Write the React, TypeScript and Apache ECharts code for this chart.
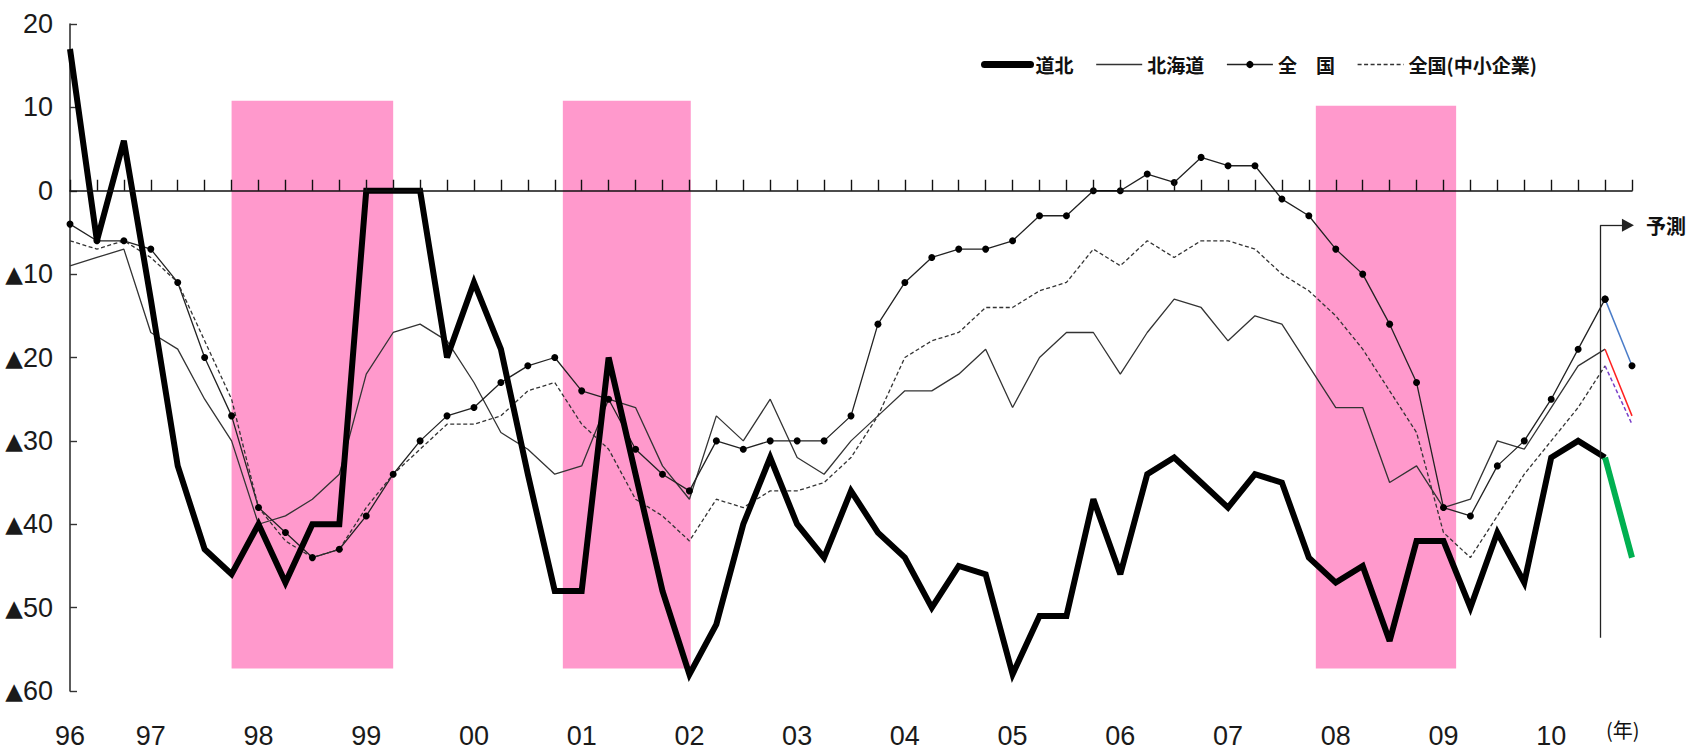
import React, { useEffect, useRef } from 'react';
import * as echarts from 'echarts';

// ---- data (quarterly, index 0 = first quarter shown, 58 = forecast) ----
const seriesNames = ['道北', '北海道', '全　国', '全国(中小企業)'];

const douhoku = [
  17, -6, 6, -13, -33, -43, -46, -40, -47, -40, -40, 0, 0, 0, -20, -11, -19, -34, -48, -48,
  -20, -34, -48, -58, -52, -40, -32, -40, -44, -36, -41, -44, -50, -45, -46, -58, -51, -51, -37, -46,
  -34, -32, -35, -38, -34, -35, -44, -47, -45, -54, -42, -42, -50, -41, -47, -32, -30, -32,
];
const hokkaido = [
  -9, -8, -7, -17, -19, -25, -30, -40, -39, -37, -34, -22, -17, -16, -18, -23, -29, -31, -34, -33,
  -25, -26, -33, -37, -27, -30, -25, -32, -34, -30, -27, -24, -24, -22, -19, -26, -20, -17, -17, -22,
  -17, -13, -14, -18, -15, -16, -21, -26, -26, -35, -33, -38, -37, -30, -31, -26, -21, -19,
];
const zenkoku = [
  -4, -6, -6, -7, -11, -20, -27, -38, -41, -44, -43, -39, -34, -30, -27, -26, -23, -21, -20, -24,
  -25, -31, -34, -36, -30, -31, -30, -30, -30, -27, -16, -11, -8, -7, -7, -6, -3, -3, 0, 0,
  2, 1, 4, 3, 3, -1, -3, -7, -10, -16, -23, -38, -39, -33, -30, -25, -19, -13,
];
const chusho = [
  -6, -7, -6, -8, -11, -18, -25, -38, -42, -44, -43, -38, -34, -31, -28, -28, -27, -24, -23, -28,
  -31, -37, -39, -42, -37, -38, -36, -36, -35, -32, -27, -20, -18, -17, -14, -14, -12, -11, -7, -9,
  -6, -8, -6, -6, -7, -10, -12, -15, -19, -24, -29, -41, -44, -39, -34, -30, -26, -21,
];
// forecast values (next quarter) in the order of seriesNames
const forecastValues = [-44, -27, -21, -28];

// year labels and the quarter index they sit on
const yearLabels = ['96', '97', '98', '99', '00', '01', '02', '03', '04', '05', '06', '07', '08', '09', '10'];
const yearLabelIndex = [0, 3, 7, 11, 15, 19, 23, 27, 31, 35, 39, 43, 47, 51, 55];

// recession periods: [start index, end index]
const recessionStart = [6.0, 18.3, 46.26];
const recessionEnd = [12.0, 23.05, 51.47];
const recessionTop = [10.8, 10.8, 10.2];
const recessionBottom = -57.3;

const NUM_FONT = "'Liberation Sans', Arial, sans-serif";
const CJK_FONT = "'Noto Sans CJK JP', 'Noto Sans CJK SC', sans-serif";

const toPairs = (arr: number[]) => arr.map((v, i) => [i, v]);
const lastIdx = douhoku.length - 1;
const fcPairs = (arr: number[], fc: number) => [
  [lastIdx, arr[lastIdx]],
  [lastIdx + 1, fc],
];

export default function App() {
  const ref = useRef<HTMLDivElement>(null);

  useEffect(() => {
    if (!ref.current) return;
    const chart = echarts.init(ref.current, undefined, { renderer: 'svg' });
    const labelMap: Record<number, string> = {};
    yearLabelIndex.forEach((idx, k) => {
      labelMap[idx] = yearLabels[k];
    });

    const option: any = {
      animation: false,
      backgroundColor: '#ffffff',
      grid: { left: 70, top: 24, width: 1562, height: 667, containLabel: false, outerBoundsMode: 'none' },
      legend: {
        left: 976,
        top: 50,
        itemWidth: 46,
        itemHeight: 9,
        itemGap: 22,
        selectedMode: false,
        textStyle: { fontFamily: CJK_FONT, fontSize: 19, fontWeight: 'bold', color: '#111' },
        lineStyle: { width: 1.4 },
        data: [
          { name: seriesNames[0], lineStyle: { width: 7, cap: 'round' }, itemStyle: { opacity: 0 } },
          { name: seriesNames[1], itemStyle: { opacity: 0 } },
          { name: seriesNames[2] },
          { name: seriesNames[3], itemStyle: { opacity: 0 } },
        ],
      },
      xAxis: [
        {
          type: 'value',
          min: 0,
          max: lastIdx + 1,
          interval: 1,
          position: 'bottom',
          axisLine: { show: false, onZero: false },
          axisTick: { show: false },
          splitLine: { show: false },
          axisLabel: {
            formatter: (v: number) => labelMap[v] ?? '',
            margin: 31,
            fontSize: 27,
            fontFamily: NUM_FONT,
            color: '#1a1a1a',
            showMinLabel: true,
            showMaxLabel: true,
          },
        },
        {
          type: 'value',
          min: 0,
          max: lastIdx + 1,
          interval: 1,
          position: 'bottom',
          z: 5,
          axisLine: { show: true, onZero: true, onZeroAxisIndex: 0, lineStyle: { color: '#111', width: 1.6 } },
          axisTick: { show: true, inside: true, length: 11, lineStyle: { color: '#111', width: 1.4 } },
          axisLabel: { show: false },
          splitLine: { show: false },
        },
      ],
      yAxis: {
        type: 'value',
        min: -60,
        max: 20,
        interval: 10,
        axisLine: { show: true, onZero: false, lineStyle: { color: '#333', width: 1.6 } },
        axisTick: { show: true, inside: true, length: 7, lineStyle: { color: '#333', width: 1.4 } },
        splitLine: { show: false },
        axisLabel: {
          formatter: (v: number) => (v < 0 ? '{t|▲}' + -v : String(v)),
          margin: 17,
          fontSize: 27,
          fontFamily: NUM_FONT,
          color: '#1a1a1a',
          rich: {
            t: { fontFamily: "'DejaVu Sans', sans-serif", fontSize: 23, color: '#1a1a1a' },
          },
        },
      },
      graphic: [
        {
          type: 'text',
          left: 1606,
          top: 719,
          style: { text: '(年)', font: `20px ${CJK_FONT}`, fill: '#111' },
        },
      ],
      series: [
        {
          name: seriesNames[0],
          type: 'line',
          data: toPairs(douhoku),
          symbol: 'none',
          lineStyle: { color: '#000', width: 6, join: 'miter', miterLimit: 3 },
          itemStyle: { color: '#000' },
          z: 4,
          markArea: {
            silent: true,
            itemStyle: { color: '#ff99cc', opacity: 1 },
            data: recessionStart.map((s, k) => [
              { xAxis: s, yAxis: recessionTop[k] },
              { xAxis: recessionEnd[k], yAxis: recessionBottom },
            ]),
          },
          markLine: {
            silent: true,
            symbol: ['none', 'none'],
            lineStyle: { color: '#222', width: 1.3, type: 'solid' },
            label: { show: false },
            data: [
              [{ coord: [56.82, -4.13] }, { coord: [56.82, -53.6] }],
              [
                { coord: [56.82, -4.13] },
                {
                  coord: [57.85, -4.13],
                  symbol: 'triangle',
                  symbolSize: [13, 12],
                  itemStyle: { color: '#111' },
                  label: {
                    show: true,
                    position: 'end',
                    formatter: '予測',
                    distance: 18,
                    fontSize: 20,
                    fontFamily: CJK_FONT,
                    fontWeight: 'bold',
                    color: '#111',
                  },
                },
              ],
            ],
          },
        },
        {
          name: seriesNames[1],
          type: 'line',
          data: toPairs(hokkaido),
          symbol: 'none',
          lineStyle: { color: '#333', width: 1.3 },
          itemStyle: { color: '#333' },
        },
        {
          name: seriesNames[2],
          type: 'line',
          data: toPairs(zenkoku),
          symbol: 'circle',
          symbolSize: 7,
          lineStyle: { color: '#222', width: 1.3 },
          itemStyle: { color: '#000' },
        },
        {
          name: seriesNames[3],
          type: 'line',
          data: toPairs(chusho),
          symbol: 'none',
          lineStyle: { color: '#333', width: 1.3, type: [4, 2.5] },
          itemStyle: { color: '#333' },
        },
        {
          name: '道北予測',
          type: 'line',
          data: fcPairs(douhoku, forecastValues[0]),
          symbol: 'none',
          lineStyle: { color: '#00b050', width: 6 },
          z: 4,
        },
        {
          name: '北海道予測',
          type: 'line',
          data: fcPairs(hokkaido, forecastValues[1]),
          symbol: 'none',
          lineStyle: { color: '#ff2020', width: 1.5 },
        },
        {
          name: '全国予測',
          type: 'line',
          data: fcPairs(zenkoku, forecastValues[2]),
          symbol: 'circle',
          symbolSize: 7,
          lineStyle: { color: '#4a7cc8', width: 1.5 },
          itemStyle: { color: '#000' },
        },
        {
          name: '全国中小予測',
          type: 'line',
          data: fcPairs(chusho, forecastValues[3]),
          symbol: 'none',
          lineStyle: { color: '#7a40c8', width: 1.5, type: [4, 2.5] },
        },
      ],
    };

    chart.setOption(option);
    return () => {
      chart.dispose();
    };
  }, []);

  return (
    <div
      ref={ref}
      style={{ position: 'fixed', left: 0, top: 0, width: 1700, height: 756, background: '#fff' }}
    />
  );
}
